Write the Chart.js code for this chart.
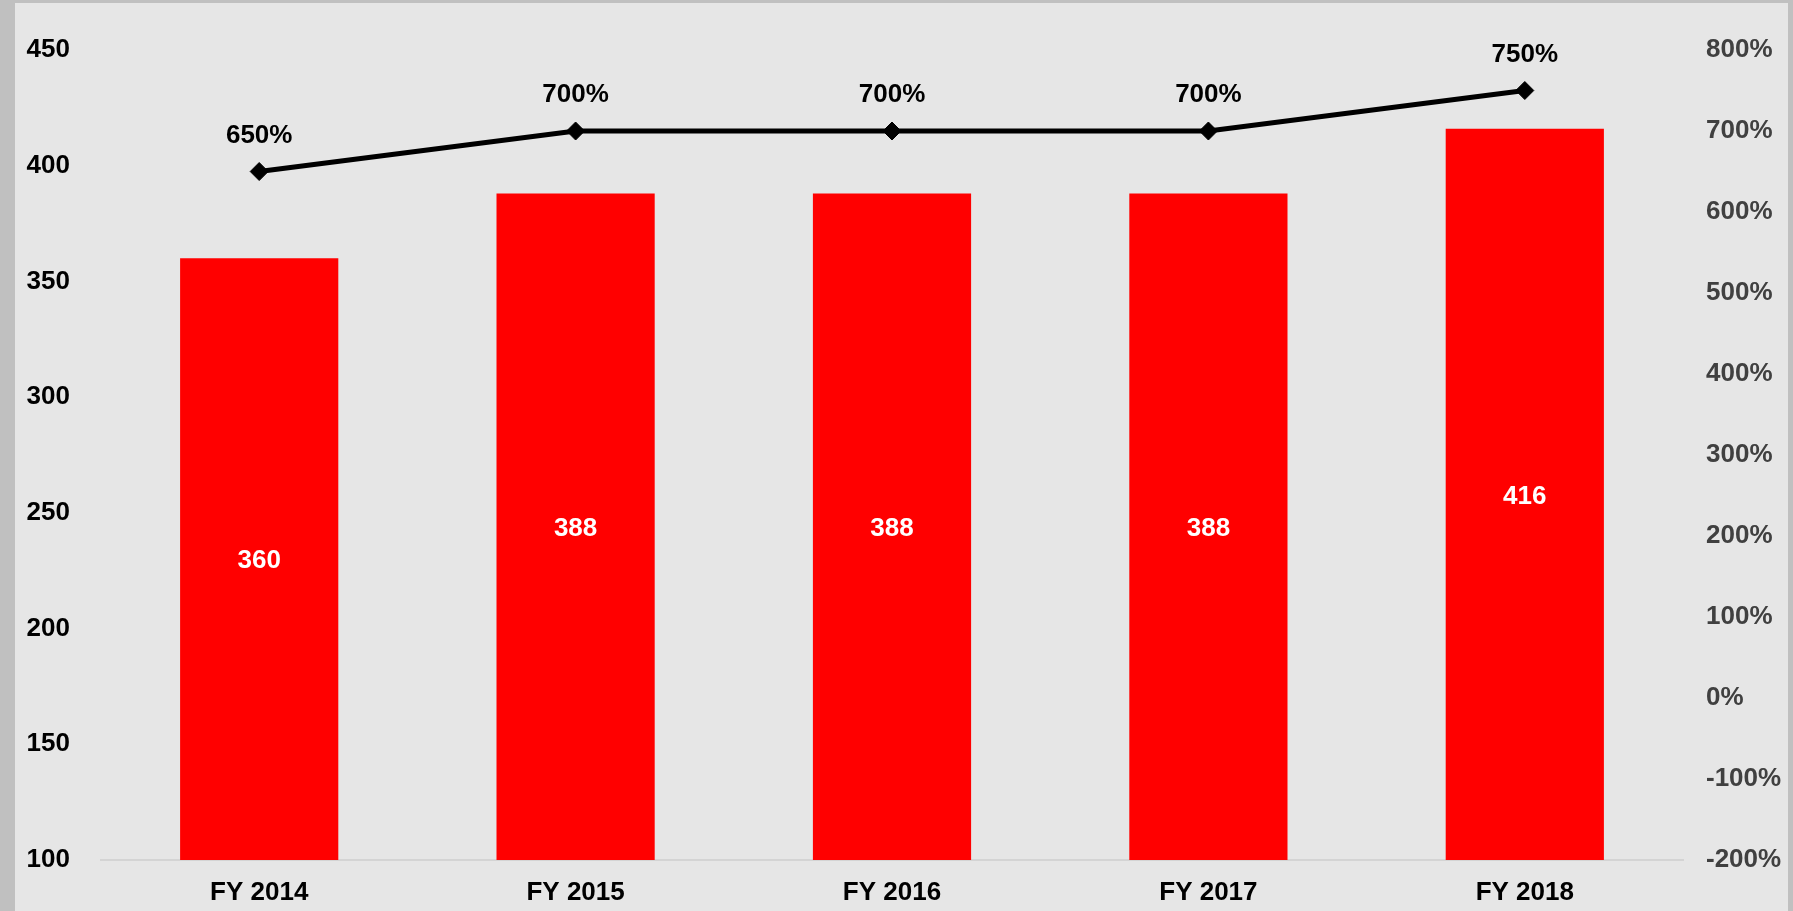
<!DOCTYPE html>
<html>
<head>
<meta charset="utf-8">
<script src="https://cdn.jsdelivr.net/npm/chart.js@4/dist/chart.umd.min.js"></script>
<style>
  html, body { margin: 0; padding: 0; width: 1793px; height: 911px; background: #c0c0c0; overflow: hidden; }
  #wrap { position: absolute; left: 15px; top: 3px; width: 1773px; height: 908px; background: #e6e6e6; }
</style>
</head>
<body>
<div id="wrap"><canvas id="c"></canvas></div>
<script>
const categories = ['FY 2014', 'FY 2015', 'FY 2016', 'FY 2017', 'FY 2018'];
const barValues = [360, 388, 388, 388, 416];
const pctValues = [650, 700, 700, 700, 750];
const leftTicks = [100, 150, 200, 250, 300, 350, 400, 450];
const rightTicks = [-200, -100, 0, 100, 200, 300, 400, 500, 600, 700, 800];

const FONT = '"Liberation Sans", Arial, sans-serif';

const labelPlugin = {
  id: 'valueLabels',
  afterDatasetsDraw(chart) {
    const ctx = chart.ctx;
    const bottom = chart.chartArea.bottom;
    ctx.save();
    ctx.font = 'bold 26px ' + FONT;
    ctx.textAlign = 'center';
    ctx.textBaseline = 'middle';
    chart.data.datasets.forEach((ds, di) => {
      const meta = chart.getDatasetMeta(di);
      meta.data.forEach((el, i) => {
        if (ds.type === 'bar') {
          ctx.fillStyle = '#ffffff';
          const base = Math.min(el.base, bottom);
          ctx.fillText(String(ds.data[i]), el.x, (el.y + base) / 2 + 2);
        } else {
          ctx.fillStyle = '#000000';
          ctx.fillText(ds.data[i] + '%', el.x, el.y - 36);
        }
      });
    });
    ctx.restore();
  }
};

new Chart(document.getElementById('c'), {
  data: {
    labels: categories,
    datasets: [
      {
        type: 'line',
        data: pctValues,
        yAxisID: 'y1',
        borderColor: '#000000',
        borderWidth: 5,
        pointStyle: 'rectRot',
        pointRadius: 9,
        pointBackgroundColor: '#000000',
        pointBorderColor: '#000000',
        pointBorderWidth: 1,
        tension: 0,
        order: 0
      },
      {
        type: 'bar',
        data: barValues,
        yAxisID: 'y',
        backgroundColor: '#ff0000',
        barPercentage: 0.5,
        categoryPercentage: 1.0,
        order: 1
      }
    ]
  },
  options: {
    responsive: true,
    maintainAspectRatio: false,
    animation: false,
    layout: { padding: { top: 47, left: 0, right: 0, bottom: 0 } },
    plugins: { legend: { display: false }, tooltip: { enabled: false } },
    scales: {
      x: {
        grid: { display: false, drawTicks: false },
        border: { display: true, color: '#d4d4d4', width: 2 },
        ticks: { color: '#000000', font: { family: FONT, size: 26, weight: 'bold' }, padding: 17 },
        afterFit(s) { s.height = 51; }
      },
      y: {
        position: 'left',
        min: 100, max: 450,
        afterBuildTicks(s) { s.ticks = leftTicks.map(v => ({ value: v })); },
        grid: { display: false, drawTicks: false },
        border: { display: false },
        ticks: { color: '#000000', font: { family: FONT, size: 26, weight: 'bold' }, padding: 31 },
        afterFit(s) { s.width = 86; }
      },
      y1: {
        position: 'right',
        min: -200, max: 800,
        afterBuildTicks(s) { s.ticks = rightTicks.map(v => ({ value: v })); },
        grid: { display: false, drawTicks: false },
        border: { display: false },
        ticks: { color: '#404040', font: { family: FONT, size: 26, weight: 'bold' }, padding: 23, callback: v => v + '%' },
        afterFit(s) { s.width = 105; }
      }
    }
  },
  plugins: [labelPlugin]
});
</script>
</body>
</html>
